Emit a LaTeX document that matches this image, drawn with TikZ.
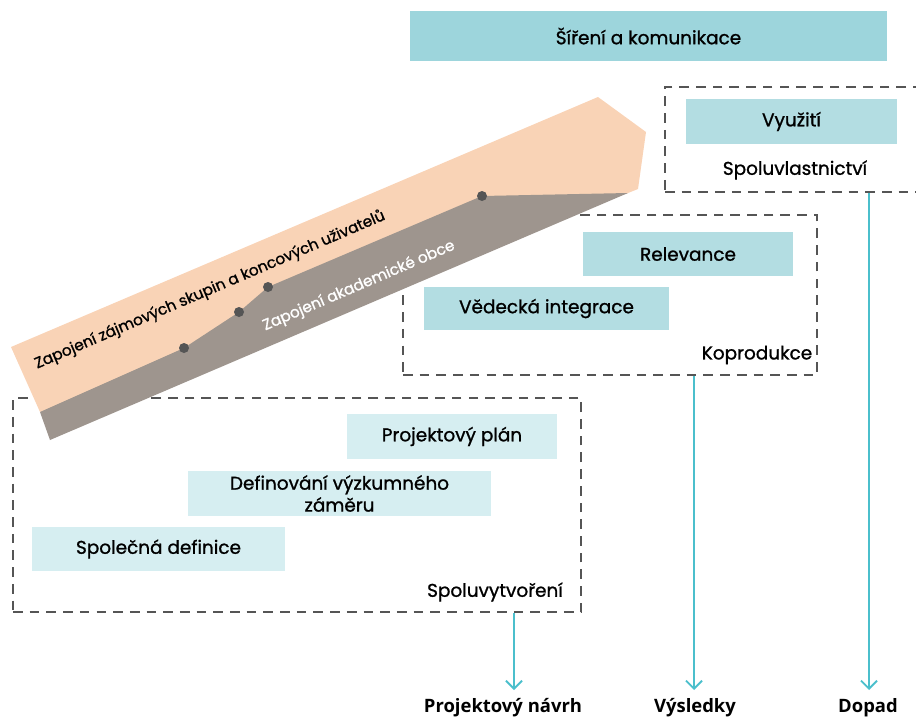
\documentclass[tikz,border=0pt]{standalone}
\usepackage{fontspec}
\setmainfont{Poppins}[FakeBold=1.1]
\newfontfamily\labelfont{Open Sans}
\usetikzlibrary{arrows.meta}

\definecolor{teal1}{HTML}{9DD5DC}
\definecolor{teal2}{HTML}{B3DDE2}
\definecolor{teal3}{HTML}{D6EEF1}
\definecolor{peach}{HTML}{F9D3B6}
\definecolor{stone}{HTML}{9E958E}
\definecolor{dotgray}{HTML}{555555}
\definecolor{flowc}{HTML}{4BBFCC}

\tikzset{
  box/.style={rectangle,inner sep=0pt,font=\fontsize{10.5}{12.5}\selectfont,align=center},
  zone/.style={rectangle,draw=dotgray,line width=0.9pt,dash pattern=on 5.5pt off 4pt,inner sep=0pt},
  tag/.style={font=\fontsize{10.5}{12.5}\selectfont},
  outlabel/.style={font=\labelfont\bfseries\fontsize{10.5}{12.5}\selectfont},
  flow/.style={draw=flowc,line width=1.1pt,-{Straight Barb[length=1.6mm,width=3.2mm]}},
  dot/.style={circle,fill=dotgray,inner sep=0pt,minimum size=0.2cm}
}

\begin{document}
\begin{tikzpicture}[x=0.02cm,y=-0.02cm]
  \useasboundingbox (0,0) rectangle (916,720);

  % Top bar
  \node[box,fill=teal1,minimum width=9.54cm,minimum height=1cm] (sireni) at (648.5,36) {Šíření a komunikace};

  % Dashed zones
  \node[zone,minimum width=5.2cm,minimum height=2.1cm] (ownership) at (795,139.5) {};
  \node[zone,minimum width=8.28cm,minimum height=3.2cm] (coproduction) at (610,295) {};
  \node[zone,minimum width=11.36cm,minimum height=4.28cm] (cocreation) at (297,505) {};

  % Boxes
  \node[box,fill=teal2,minimum width=4.22cm,minimum height=0.9cm] (vyuziti) at (791.5,121.5) {Využití};
  \node[box,fill=teal2,minimum width=4.2cm,minimum height=0.88cm] (relevance) at (688,254) {Relevance};
  \node[box,fill=teal2,minimum width=4.9cm,minimum height=0.86cm] (integrace) at (546.5,308.5) {Vědecká integrace};
  \node[box,fill=teal3,minimum width=4.2cm,minimum height=0.9cm] (plan) at (452,436.5) {Projektový plán};
  \node[box,fill=teal3,minimum width=6.06cm,minimum height=0.9cm] (zamer) at (339.5,493.5) {Definování výzkumného\\záměru};
  \node[box,fill=teal3,minimum width=5.06cm,minimum height=0.88cm] (definice) at (158.5,549) {Společná definice};

  % Zone titles
  \node[tag] (t1) at (795,170) {Spoluvlastnictví};
  \node[tag] (t2) at (757,355) {Koprodukce};
  \node[tag] (t3) at (495,592) {Spoluvytvoření};

  % Engagement band
  \coordinate (d1) at (184,348);
  \coordinate (d2) at (239,312);
  \coordinate (d3) at (268,287);
  \coordinate (d4) at (482,196);
  \fill[peach] (11,347) -- (598,97) -- (646,132) -- (638,189) -- (628,193) -- (40,412) -- cycle;
  \fill[stone] (40,412) -- (d1) -- (d2) -- (d3) -- (d4) -- (628,193) -- (50,440) -- cycle;
  \foreach \d in {d1,d2,d3,d4}
    \node[dot] at (\d) {};
  \node[rotate=23.2,inner sep=0pt,font=\fontsize{8.7}{10.5}\selectfont] (stake) at (210,290) {Zapojení zájmových skupin a koncových uživatelů};
  \node[rotate=23.2,inner sep=0pt,font=\fontsize{8.7}{10.5}\selectfont,text=white] (academia) at (359,286) {Zapojení akademické obce};

  % Outputs
  \node[outlabel] (navrh) at (503,708) {Projektový návrh};
  \node[outlabel] (vysledky) at (695,708) {Výsledky};
  \node[outlabel] (dopad) at (868,708) {Dopad};
  \coordinate (a1) at (514,690);
  \coordinate (a2) at (694,690);
  \coordinate (a3) at (869,690);
  \draw[flow] (cocreation.south -| a1) -- (a1);
  \draw[flow] (coproduction.south -| a2) -- (a2);
  \draw[flow] (ownership.south -| a3) -- (a3);
\end{tikzpicture}
\end{document}
